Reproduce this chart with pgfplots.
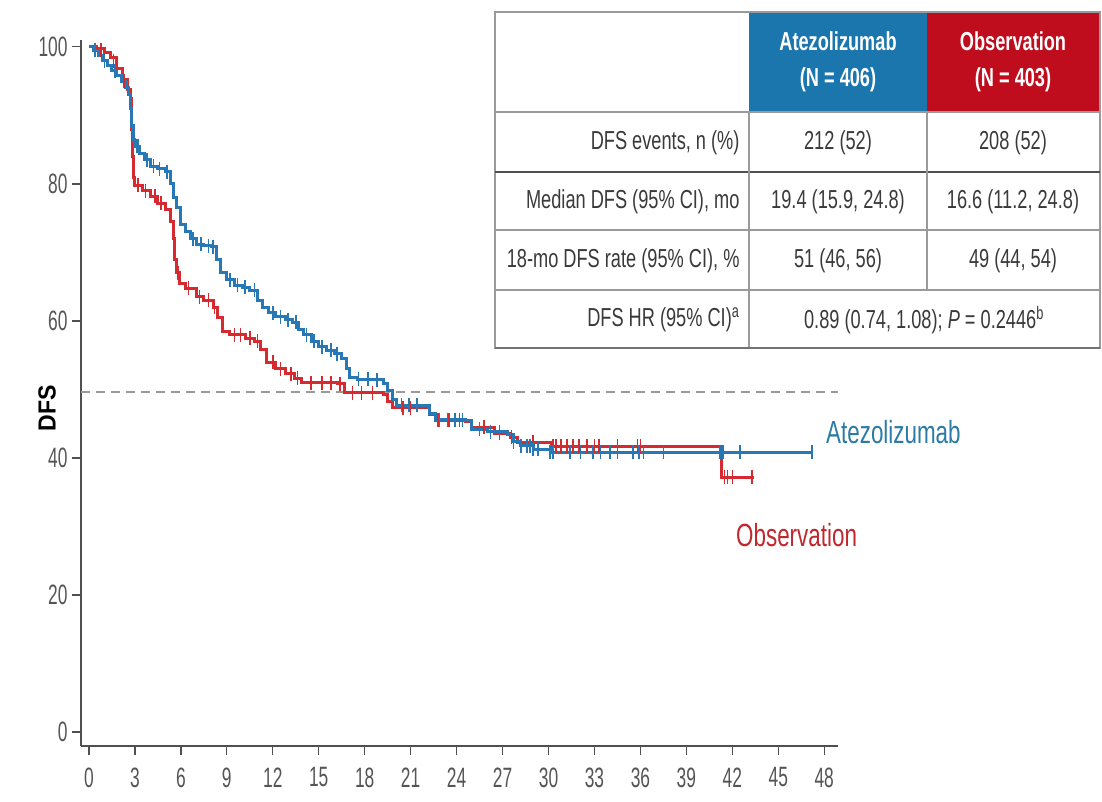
\documentclass[border=0pt]{standalone}
\usepackage{fontspec}
\setmainfont{Liberation Sans}[FakeStretch=0.7]
\newfontfamily\tickfam{Liberation Sans}[FakeStretch=0.62]
\usepackage{pgfplots}
\pgfplotsset{compat=1.18}
\usepackage{graphicx}
\definecolor{atz}{HTML}{2878B5}
\definecolor{obs}{HTML}{D42A30}
\definecolor{hdrblue}{HTML}{1A76AD}
\definecolor{hdrred}{HTML}{C00D1E}
\definecolor{atzlab}{HTML}{2C7BA5}
\definecolor{obslab}{HTML}{C0282E}
\definecolor{axgray}{HTML}{505050}
\definecolor{tickgray}{HTML}{555555}
\definecolor{txt}{HTML}{3A3A3A}
\definecolor{grid}{HTML}{9A9A9A}
\newcommand\tabfont{\fontsize{26}{30}\selectfont}
\newcommand\hdrfont{\fontsize{26}{36}\selectfont\bfseries}
\newcommand\lblfont{\fontsize{32}{36}\selectfont}
\begin{document}
\begin{tikzpicture}[x=1pt,y=1pt]
\path[use as bounding box] (0,0) rectangle (1102,801);
\begin{axis}[
  at={(81pt,55pt)}, anchor=south west, scale only axis,
  width=757pt, height=706pt,
  xmin=-0.52, xmax=48.9, ymin=-2.04, ymax=101,
  axis x line=bottom, axis y line=left,
  axis line style={-, draw=axgray, line width=1.6pt},
  xtick={0,3,...,48}, ytick={0,20,...,100},
  tick align=outside, major tick length=9pt,
  tick style={draw=axgray, line width=1.3pt},
  ticklabel style={font=\tickfam\fontsize{28}{28}\selectfont, text=tickgray},
  /pgf/number format/assume math mode=true,
  xticklabel style={yshift=-9pt},
  yticklabel style={xshift=-1pt},
  clip=false,
]
\addplot[dashed, dash pattern=on 9pt off 6pt, draw=grid, line width=1.6pt] coordinates {(-0.52,49.6) (48.9,49.6)};
% Observation
\addplot[const plot, obs, line width=3pt] coordinates {
(0,100) (0.5,99.7) (1.0,99.2) (1.4,98.5) (1.8,96.8) (2.2,95.2) (2.5,93.8) (2.7,92.5)
(2.8,88) (2.85,84) (2.9,81) (3.0,79.8) (3.5,79) (4.0,78.2) (4.5,77.2) (5.0,76.2)
(5.3,74.5) (5.5,72) (5.6,69) (5.7,67) (5.9,65.5) (6.3,64.8) (7.0,63.5) (7.5,63)
(8.1,62) (8.4,60.5) (8.7,58.5) (9.2,58) (10.2,57.5) (10.8,57) (11.2,55.8) (11.6,54)
(12.2,53) (12.8,52.3) (13.4,51.6) (13.9,51) (16.2,50.8) (16.7,49.5) (19.2,49.3)
(19.5,48.2) (19.8,47.3) (21.8,47.4) (22.2,46.3) (22.6,45.5) (24.6,45.3) (25.0,44.5)
(26.5,43.6) (27.5,43.0) (28.0,42.3) (30.2,41.7) (41.2,41.7) (41.3,37.2) (43.4,37.2)};
% Atezolizumab
\addplot[const plot, atz, line width=3pt] coordinates {
(0,100) (0.3,99.5) (0.6,98.8) (0.9,98) (1.2,97.3) (1.5,96.5) (1.8,95.8) (2.1,95)
(2.4,94) (2.6,93) (2.7,91) (2.8,88.5) (2.9,86.5) (3.0,85.5) (3.3,84.5) (3.6,83.5)
(4.0,82.6) (4.5,82.2) (5.0,81.8) (5.3,80) (5.5,78) (5.7,76.5) (6.0,74) (6.3,73)
(6.6,72) (7.0,71.2) (7.5,71) (8.0,70.8) (8.3,69) (8.6,67) (9.0,66) (9.5,65.2)
(10.0,64.9) (10.5,64.5) (11.0,63) (11.3,62) (11.7,61.2) (12.2,60.6) (12.8,60.2)
(13.3,59.8) (13.7,58.8) (14.0,58) (14.5,57) (15.0,56.2) (15.5,55.7) (16.0,55.2)
(16.5,54.5) (16.8,53) (17.0,51.8) (17.5,51.5) (18.5,51.4) (19.2,50.8) (19.5,49.8)
(19.8,48.5) (20.1,47.7) (21.8,47.7) (22.2,46.5) (22.6,45.6) (24.6,45.5) (25.0,44.2)
(26.0,43.8) (27.3,43.4) (27.7,42.4) (28.2,41.8) (29.0,41.3) (30.1,40.8) (47.2,40.8)};
% censor marks
\addplot[only marks, mark=|, mark size=7pt, obs, mark options={line width=1.5pt}] coordinates {
(0.8,99.5) (1.6,98) (2.3,95) (2.85,84) (2.9,81) (3.2,79.8) (3.7,79) (4.3,78.2) (4.7,77.2) (5.65,69) (5.8,67)
(6.5,64.8) (7.2,63.5) (7.8,63) (8.2,62) (9.5,58) (9.9,58) (10.5,57.5) (11.0,57) (12.0,54) (12.5,53)
(13.2,52.3) (13.6,51.6) (14.5,51) (15.2,51) (15.8,51) (16.4,50.8) (17.2,49.5) (17.8,49.5)
(18.5,49.5) (20.5,47.3) (21.0,47.3) (22.8,45.5) (23.5,45.5) (24.2,45.5) (25.8,44.5)
(26.8,43.6) (27.6,43.0) (29.0,42.3) (30.3,41.7) (30.5,41.7) (30.8,41.7) (31.2,41.7)
(31.6,41.7) (32.0,41.7) (32.5,41.7) (33.0,41.7) (33.3,41.7) (34.5,41.7) (35.8,41.7)
(36.0,41.7) (41.5,37.2) (41.7,37.2) (42.0,37.2) (43.3,37.2)};
\addplot[only marks, mark=|, mark size=7pt, atz, mark options={line width=1.5pt}] coordinates {
(0.4,99.5) (1.0,98) (1.7,96.5) (2.5,94) (2.8,88.5) (2.9,86.5) (3.1,85.5) (3.2,85.5) (3.8,83.5) (4.2,82.6) (4.6,82.2) (5.1,81.8)
(6.8,72) (7.3,71.2) (7.8,71) (8.1,70.8) (9.2,66) (9.7,65.2) (10.2,64.9) (10.8,64.5)
(12.0,61.2) (12.5,60.6) (13.0,60.2) (13.5,59.8) (14.2,58) (14.7,57) (15.2,56.2) (15.8,55.7) (16.2,55.2)
(17.6,51.5) (18.2,51.5) (18.8,51.4) (20.4,47.7) (20.9,47.7) (21.4,47.7) (22.9,45.6)
(23.4,45.6) (23.9,45.6) (24.4,45.6) (25.5,44.2) (26.2,43.8) (26.8,43.8) (27.7,42.4)
(28.2,41.8) (28.6,41.8) (28.8,41.8) (29.0,41.3) (29.3,41.3) (30.1,40.8) (30.3,40.8)
(31.4,40.8) (32.1,40.8) (32.9,40.8) (33.4,40.8) (34.0,40.8) (34.5,40.8) (35.5,40.8)
(35.9,40.8) (36.2,40.8) (37.5,40.8) (41.2,40.8) (41.4,40.8) (42.5,40.8) (47.2,40.8)};
\end{axis}
% y label
\node[rotate=90, inner sep=0] at (47,393) {\scalebox{1}[0.75]{\fontsize{33}{33}\selectfont\bfseries DFS}};
% curve labels
\node[anchor=west, inner sep=0, text=atzlab, font=\lblfont] at (826,369) {Atezolizumab};
\node[anchor=west, inner sep=0, text=obslab, font=\lblfont] at (736,266) {Observation};
% table
\fill[white] (495,453) rectangle (1100,789);
\fill[hdrblue] (749,689) rectangle (927,789);
\fill[hdrred] (927,689) rectangle (1100,789);
\draw[grid, line width=1.3pt] (495,453) rectangle (1100,789);
\draw[grid, line width=1.3pt] (495,689) -- (1100,689);
\draw[axgray, line width=2pt] (495,629) -- (1100,629);
\draw[grid, line width=1.3pt] (495,571) -- (1100,571);
\draw[grid, line width=1.3pt] (495,511) -- (1100,511);
\draw[grid, line width=1.3pt] (749,453) -- (749,689);
\draw[grid, line width=1.3pt] (927,511) -- (927,689);
\draw[axgray!80, line width=2.5pt] (495,453) -- (1100,453);
\node[align=center, text=white, font=\hdrfont] at (838,739) {Atezolizumab\\(N = 406)};
\node[align=center, text=white, font=\hdrfont] at (1013,739) {Observation\\(N = 403)};
\node[anchor=east, text=txt, font=\tabfont] at (743,658) {DFS events, n (\%)};
\node[anchor=east, text=txt, font=\tabfont] at (743,599) {Median DFS (95\% CI), mo};
\node[anchor=east, text=txt, font=\tabfont] at (743,540) {18-mo DFS rate (95\% CI), \%};
\node[anchor=east, text=txt, font=\tabfont] at (743,481) {DFS HR (95\% CI)\textsuperscript{a}};
\node[text=txt, font=\tabfont] at (838,658) {212 (52)};
\node[text=txt, font=\tabfont] at (1013,658) {208 (52)};
\node[text=txt, font=\tabfont] at (838,599) {19.4 (15.9, 24.8)};
\node[text=txt, font=\tabfont] at (1013,599) {16.6 (11.2, 24.8)};
\node[text=txt, font=\tabfont] at (838,540) {51 (46, 56)};
\node[text=txt, font=\tabfont] at (1013,540) {49 (44, 54)};
\node[text=txt, font=\tabfont] at (924,481) {0.89 (0.74, 1.08); \textit{P} = 0.2446\textsuperscript{b}};
\end{tikzpicture}
\end{document}
